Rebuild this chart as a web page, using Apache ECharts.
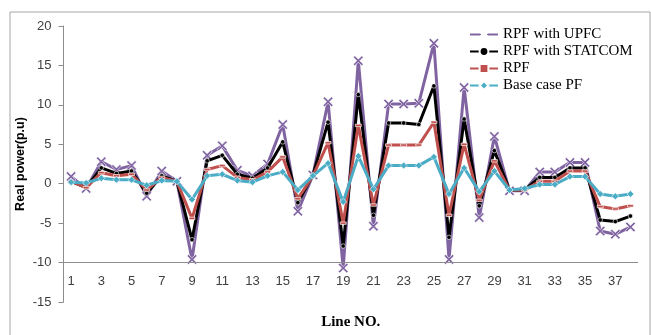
<!DOCTYPE html>
<html>
<head>
<meta charset="utf-8">
<script src="https://cdn.jsdelivr.net/npm/echarts@6/dist/echarts.min.js"></script>
<style>
html,body{margin:0;padding:0;background:#fff;}
#chart{width:651px;height:335px;}
</style>
</head>
<body>
<div id="chart"></div>
<script>
const categories = ['1','2','3','4','5','6','7','8','9','10','11','12','13','14','15','16','17','18','19','20','21','22','23','24','25','26','27','28','29','30','31','32','33','34','35','36','37','38'];
const upfc    = [0.9,-0.6,2.8,1.8,2.3,-1.6,1.6,0.3,-9.6,3.6,4.8,1.7,1.0,2.5,7.5,-3.5,1.1,10.4,-10.7,15.6,-5.4,10.1,10.1,10.2,17.8,-9.6,12.2,-4.3,6.0,-0.9,-0.9,1.5,1.5,2.7,2.7,-6.0,-6.4,-5.5];
const statcom = [0.3,-0.5,2.0,1.3,1.6,-1.2,1.0,0.3,-7.1,2.9,3.6,1.2,0.7,2.0,5.3,-2.4,1.1,7.8,-7.9,11.3,-4.0,7.7,7.7,7.5,12.4,-6.8,8.2,-2.8,4.2,-0.8,-0.8,0.8,0.8,2.0,2.0,-4.6,-4.8,-4.1];
const rpf     = [0.3,-0.5,1.4,1.0,1.2,-0.8,0.8,0.3,-4.4,1.8,2.3,0.8,0.5,1.5,3.4,-1.9,1.0,5.2,-5.0,7.4,-2.7,4.9,4.9,4.9,7.8,-4.0,5.0,-2.1,2.9,-0.8,-0.8,0.3,0.3,1.6,1.6,-2.9,-3.2,-2.8];
const base    = [0.2,0.1,0.7,0.5,0.5,-0.2,0.4,0.3,-2.0,1.0,1.2,0.4,0.2,1.0,1.5,-0.8,1.0,2.6,-2.3,3.5,-0.7,2.3,2.3,2.3,3.4,-1.3,2.0,-1.0,1.6,-0.8,-0.6,-0.1,-0.1,0.9,0.9,-1.3,-1.6,-1.3];
const yTicks = {min:-15, max:20, interval:5};

const xPath = 'path://M1.5,0 L5,3.5 L8.5,0 L10,1.5 L6.5,5 L10,8.5 L8.5,10 L5,6.5 L1.5,10 L0,8.5 L3.5,5 L0,1.5 Z';

const chart = echarts.init(document.getElementById('chart'), null, {renderer:'canvas'});
const serif = '"Liberation Serif", "Times New Roman", serif';
const sans = '"Liberation Sans", Arial, sans-serif';

function mk(name, data, color, symbol, size, z, extra){
  return Object.assign({
    name, type:'line', data, z,
    symbol, symbolSize:size, showSymbol:true,
    lineStyle:{color, width:3},
    itemStyle:{color, borderColor:'#fff', borderWidth:0.6},
    emphasis:{disabled:true},
    animation:false
  }, extra||{});
}

chart.setOption({
  animation:false,
  graphic:[{
    type:'rect', left:7.5, top:9.5,
    shape:{x:0,y:0,width:640,height:340},
    style:{fill:'none', stroke:'#a6a6a6', lineWidth:1}, silent:true
  }],
  grid:{left:63.5, right:13, top:26, bottom:31},
  legend:{
    orient:'vertical', left:464, top:22,
    itemWidth:28, itemHeight:11, itemGap:2,
    textStyle:{fontFamily:serif, fontSize:15, color:'#000'},
    data:['RPF with UPFC','RPF with STATCOM','RPF','Base case PF']
  },
  xAxis:{
    type:'category', data:categories, boundaryGap:true,
    axisLine:{show:false}, axisTick:{show:false},
    axisLabel:{inside:true, margin:14, interval:1, fontFamily:sans, fontSize:13, color:'#404040'},
    name:'Line NO.', nameLocation:'middle', nameGap:13, nameMoveOverlap:false,
    nameTextStyle:{fontFamily:serif, fontSize:15, fontWeight:'bold', color:'#000', verticalAlign:'top'},
    splitLine:{show:false}
  },
  yAxis:{
    type:'value', min:yTicks.min, max:yTicks.max, interval:yTicks.interval,
    axisLine:{show:true, lineStyle:{color:'#8c8c8c', width:1}},
    axisTick:{show:true, length:5, lineStyle:{color:'#8c8c8c'}},
    axisLabel:{margin:12, fontFamily:sans, fontSize:13, color:'#404040'},
    splitLine:{show:false},
    name:'Real power(p.u)', nameLocation:'middle', nameGap:36, nameRotate:90, nameMoveOverlap:false,
    nameTextStyle:{fontFamily:sans, fontSize:12.5, fontWeight:'bold', color:'#000'}
  },
  series:[
    mk('RPF with UPFC', upfc, '#8064A2', xPath, 10, 2, {
      markLine:{silent:true, symbol:['none','none'], label:{show:false},
        lineStyle:{color:'#8c8c8c', width:1, type:'solid'},
        emphasis:{disabled:true}, animation:false,
        data:[{yAxis:-10}]}
    }),
    mk('RPF with STATCOM', statcom, '#000000', 'circle', 4.5, 3),
    mk('RPF', rpf, '#C0504D', 'rect', [6,2.5], 4),
    mk('Base case PF', base, '#4BACC6', 'diamond', 7, 5)
  ]
});
</script>
</body>
</html>
